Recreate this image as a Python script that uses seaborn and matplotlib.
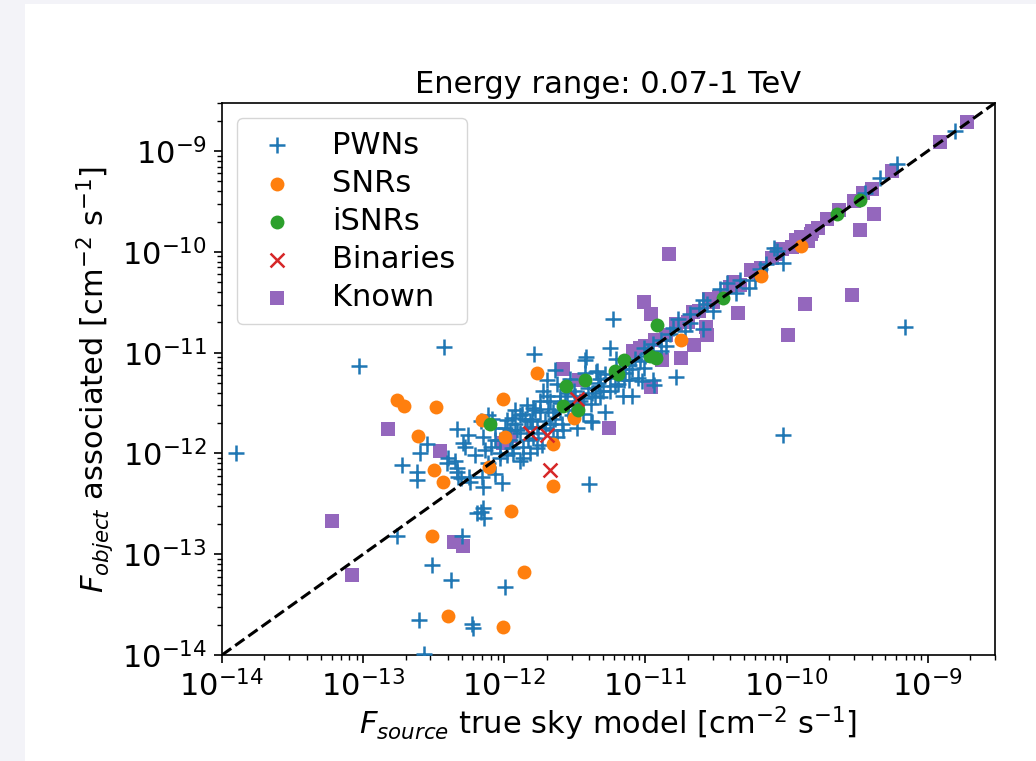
import matplotlib
matplotlib.use("Agg")
import matplotlib.pyplot as plt
from matplotlib.patches import Rectangle
import seaborn as sns
import numpy as np

# ---------------- data (fluxes, cm^-2 s^-1) ----------------
pwn_x = [1.26e-14, 9.4e-14, 3.75e-13, 6.9e-10, 9.4e-11, 5.9e-12, 1.63e-12, 3.8e-12, 5.65e-12, 2.3e-12,
         6.2e-12, 4.57e-12, 1.74e-13, 5.0e-13, 3.1e-13, 4.2e-13, 2.5e-13, 2.7e-13, 5.9e-13, 6.0e-13,
         1.02e-12, 6.8e-13, 7.2e-13, 6.4e-13, 7.1e-13, 9.7e-13, 4.0e-12, 1.89e-13, 2.42e-13, 2.42e-13,
         2.85e-13, 2.54e-13, 4.6e-13, 5.5e-13, 6.8e-13, 5.1e-13, 4.0e-13, 4.6e-13, 4.7e-13, 5.7e-13,
         8.6e-13, 9.4e-13, 7.1e-13, 1.14e-12, 1.30e-12, 1.61e-12, 1.80e-12, 5.3e-13, 7.7e-13, 1.05e-12,
         3.94e-13, 4.5e-13, 4.6e-13, 4.9e-13, 5.6e-13, 7.0e-13, 7.1e-13, 1.30e-12, 1.36e-12, 1.48e-12,
         1.34e-12, 1.46e-12, 1.58e-12, 9.4e-13, 1.05e-12, 1.14e-12, 1.24e-12, 1.53e-12, 1.66e-12, 2.02e-12,
         2.38e-12, 1.89e-12, 2.8e-12, 3.1e-12, 3.9e-12, 4.6e-12, 5.0e-12, 5.65e-12, 7.0e-12, 8.8e-12,
         9.7e-12, 4.8e-12, 4.1e-12, 3.3e-12, 2.12e-12, 1.80e-12, 2.23e-12, 1.2e-12, 1.46e-12, 1.71e-12,
         2.12e-12, 2.58e-12, 2.62e-12, 2.38e-12, 1.61e-12, 1.71e-12, 1.16e-12, 1.36e-12, 4.1e-12, 3.0e-12,
         3.6e-12, 4.5e-12, 3.75e-12, 1.66e-11, 1.16e-11, 4.2e-12, 5.2e-12, 6.9e-12, 8.1e-12, 9.4e-12,
         1.14e-11, 8.1e-11, 9.4e-11, 7.1e-11, 8.6e-11, 3.8e-11, 4.7e-11, 5.4e-11, 3.4e-11, 2.75e-11,
         2.38e-11, 2.54e-11, 2.08e-11, 1.71e-11, 1.58e-11, 1.5e-11, 2.58e-11, 1.28e-11, 1.14e-11, 9.7e-12,
         1.55e-9, 6.1e-10, 4.6e-10, 3.6e-10, 7.6e-12, 8.5e-12, 6.65e-12, 5.2e-12, 1.0e-11, 1.28e-11,
         1.39e-11, 1.92e-11, 2.08e-11, 2.99e-11, 4.35e-11, 6.0e-11, 6.5e-11, 2.71e-12, 3.19e-12, 2.5e-12,
         1.95e-12, 9.4e-13, 8.0e-13, 6.2e-13, 7.7e-13, 1.1e-12, 8.6e-13, 3.46e-12, 2.5e-12, 6.1e-12,
         4.4e-12, 7.6e-12, 2.94e-12, 2.02e-12, 1.58e-12, 2.23e-12,
         1.20e-12, 1.41e-12, 1.74e-12, 1.95e-12, 2.30e-12, 2.05e-12, 2.50e-12, 2.84e-12, 3.19e-12, 3.63e-12,
         4.21e-12, 4.80e-12, 5.65e-12, 6.44e-12, 7.21e-12, 8.09e-12, 9.22e-12, 1.05e-11, 1.02e-12, 8.63e-13,
         7.33e-13, 1.10e-12, 1.30e-12, 1.86e-12, 1.53e-12, 2.71e-12, 4.80e-12, 3.75e-12, 3.30e-12, 8.22e-13]
pwn_y = [1.02e-12, 7.3e-12, 1.15e-11, 1.8e-11, 1.54e-12, 2.17e-11, 9.8e-12, 9.1e-12, 1.12e-11, 6.8e-12,
         8.7e-12, 6.6e-12, 1.5e-13, 1.5e-13, 7.9e-14, 5.6e-14, 2.25e-14, 1.02e-14, 2.05e-14, 1.85e-14,
         4.7e-14, 2.6e-13, 2.3e-13, 2.55e-13, 4.6e-13, 5.05e-13, 5.0e-13, 7.6e-13, 6.5e-13, 5.5e-13,
         1.23e-12, 1.02e-12, 1.73e-12, 1.51e-12, 2.12e-12, 1.26e-12, 9.1e-13, 6.5e-13, 5.8e-13, 5.2e-13,
         6.3e-13, 1.0e-12, 1.44e-12, 2.27e-12, 2.38e-12, 2.85e-12, 3.35e-12, 1.15e-12, 2.38e-12, 2.17e-12,
         8.0e-13, 8.5e-13, 7.1e-13, 5.65e-13, 5.8e-13, 5.8e-13, 2.9e-13, 8.5e-13, 1.15e-12, 1.35e-12,
         2.49e-12, 2.99e-12, 1.81e-12, 9.1e-13, 9.6e-13, 1.12e-12, 1.69e-12, 2.12e-12, 2.67e-12, 5.3e-12,
         4.9e-12, 4.2e-12, 4.0e-12, 4.2e-12, 4.5e-12, 5.05e-12, 4.2e-12, 5.65e-12, 5.3e-12, 5.65e-12,
         7.1e-12, 3.6e-12, 3.1e-12, 3.2e-12, 3.35e-12, 2.55e-12, 2.55e-12, 1.98e-12, 1.77e-12, 1.81e-12,
         1.98e-12, 1.98e-12, 1.69e-12, 1.44e-12, 1.41e-12, 1.12e-12, 1.02e-12, 9.1e-13, 2.12e-12, 2.38e-12,
         2.49e-12, 6.5e-12, 8.5e-12, 5.75e-12, 4.8e-12, 2.05e-12, 2.6e-12, 3.75e-12, 3.7e-12, 5.2e-12,
         5.3e-12, 1.10e-10, 7.8e-11, 7.6e-11, 1.02e-10, 4.9e-11, 5.2e-11, 4.4e-11, 4.3e-11, 3.05e-11,
         2.8e-11, 3.3e-11, 2.4e-11, 2.17e-11, 1.77e-11, 1.54e-11, 1.73e-11, 1.32e-11, 1.23e-11, 1.12e-11,
         1.6e-9, 7.4e-10, 5.4e-10, 3.8e-10, 7.6e-12, 8.7e-12, 6.95e-12, 6.2e-12, 9.3e-12, 1.05e-11,
         1.17e-11, 1.65e-11, 1.98e-11, 2.6e-11, 3.9e-11, 5.2e-11, 6.8e-11, 3.35e-12, 3.75e-12, 2.67e-12,
         2.12e-12, 1.35e-12, 1.15e-12, 9.6e-13, 8.1e-13, 1.69e-12, 1.77e-12, 3.35e-12, 3.75e-12, 4.7e-12,
         3.75e-12, 5.3e-12, 5.5e-12, 3.75e-12, 2.22e-12, 1.69e-12,
         2.67e-12, 2.22e-12, 1.58e-12, 1.77e-12, 2.22e-12, 2.79e-12, 3.20e-12, 2.67e-12, 2.99e-12, 3.51e-12,
         4.02e-12, 4.71e-12, 4.21e-12, 4.93e-12, 6.34e-12, 6.95e-12, 8.34e-12, 1.0e-11, 1.77e-12, 1.35e-12,
         1.07e-12, 1.35e-12, 1.61e-12, 1.20e-12, 1.02e-12, 4.71e-12, 5.53e-12, 6.34e-12, 1.77e-12, 2.22e-12]

snr_x = [1.74e-13, 1.95e-13, 3.3e-13, 2.45e-13, 9.8e-13, 1.7e-12, 3.2e-13, 3.7e-13, 2.2e-12, 2.2e-12,
         6.9e-13, 7.8e-13, 1.02e-12, 3.1e-12, 3.1e-13, 4.0e-13, 9.8e-13, 1.38e-12, 1.12e-12, 6.6e-11,
         1.26e-10, 1.8e-11]
snr_y = [3.4e-12, 2.95e-12, 2.9e-12, 1.5e-12, 3.5e-12, 6.3e-12, 6.8e-13, 5.2e-13, 1.23e-12, 4.8e-13,
         2.15e-12, 7.4e-13, 1.45e-12, 2.24e-12, 1.5e-13, 2.45e-14, 1.9e-14, 6.6e-14, 2.7e-13, 5.75e-11,
         1.15e-10, 1.32e-11]

isnr_x = [7.9e-13, 2.75e-12, 3.75e-12, 2.6e-12, 3.35e-12, 1.2e-11, 7.1e-12, 6.1e-12, 6.4e-12, 1.08e-11,
          1.18e-11, 3.55e-11, 2.26e-10, 3.3e-10]
isnr_y = [1.95e-12, 4.7e-12, 5.4e-12, 2.95e-12, 2.67e-12, 1.89e-11, 8.5e-12, 6.6e-12, 6.2e-12, 9.3e-12,
          8.9e-12, 3.5e-11, 2.35e-10, 3.3e-10]

bin_x = [2.1e-12, 1.53e-12, 2.02e-12, 3.3e-12]
bin_y = [6.9e-13, 1.61e-12, 1.51e-12, 3.5e-12]

known_x = [1.9e-9, 1.23e-9, 5.6e-10, 4.0e-10, 3.5e-10, 3.0e-10, 2.35e-10, 1.95e-10, 1.66e-10, 1.48e-10,
           1.41e-10, 4.2e-10, 3.3e-10, 2.9e-10, 1.35e-10, 1.02e-10, 4.5e-11, 2.75e-11, 2.7e-11, 2.2e-11,
           1.78e-11, 1.32e-11, 1.48e-11, 9.8e-12, 1.1e-11, 1.1e-11, 5.5e-12, 2.6e-12, 3.4e-12, 1.1e-12,
           9.8e-13, 1.5e-13, 3.5e-13, 6.0e-14, 8.3e-14, 4.4e-13, 5.1e-13, 8.2e-12, 9.2e-12, 1.0e-11,
           1.17e-11, 1.41e-11, 1.66e-11, 2.0e-11, 2.4e-11, 2.8e-11, 3.3e-11, 4.0e-11, 4.7e-11, 5.6e-11,
           6.6e-11, 7.9e-11, 9.3e-11, 1.10e-10, 1.26e-10, 1.51e-10,
           2.19e-11, 3.02e-11, 4.27e-11, 6.03e-11, 8.51e-11, 1.17e-10]
known_y = [1.95e-9, 1.23e-9, 6.3e-10, 4.2e-10, 3.8e-10, 3.2e-10, 2.6e-10, 2.1e-10, 1.74e-10, 1.5e-10,
           1.29e-10, 2.35e-10, 1.65e-10, 3.7e-11, 3.05e-11, 1.48e-11, 2.45e-11, 1.48e-11, 1.8e-11, 1.2e-11,
           8.9e-12, 8.5e-12, 9.6e-11, 3.2e-11, 2.4e-11, 4.6e-12, 1.8e-12, 6.9e-12, 5.3e-12, 1.5e-12,
           1.26e-12, 1.74e-12, 1.05e-12, 2.15e-13, 6.2e-14, 1.32e-13, 1.2e-13, 1.05e-11, 1.12e-11, 1.17e-11,
           1.32e-11, 1.48e-11, 1.91e-11, 2.0e-11, 2.6e-11, 3.4e-11, 3.55e-11, 4.5e-11, 4.7e-11, 6.6e-11,
           6.9e-11, 8.7e-11, 1.07e-10, 1.12e-10, 1.41e-10, 1.62e-10,
           2.51e-11, 3.16e-11, 5.01e-11, 6.31e-11, 9.55e-11, 1.32e-10]

diag = [1e-14, 3e-9]
axis_limits = [1e-14, 3e-9]
labels = ["PWNs", "SNRs", "iSNRs", "Binaries", "Known"]

# ---------------- figure ----------------
plt.rcParams['font.family'] = ['DejaVu Sans']
plt.rcParams['mathtext.fontset'] = 'dejavusans'
W, H = 1036, 761
fig = plt.figure(figsize=(W / 100, H / 100), dpi=100)
fig.patch.set_facecolor('#f3f3f8')
fig.patches.append(Rectangle((25 / W, 0), 1 - 25 / W, 1 - 4 / H, transform=fig.transFigure,
                             facecolor='white', edgecolor='none', zorder=-10))

ax = fig.add_axes([222 / W, 1 - 655 / H, 773 / W, 552 / H])
ax.set_xscale('log')
ax.set_yscale('log')

cols = sns.color_palette("tab10")
S = 100

sns.scatterplot(x=known_x, y=known_y, ax=ax, marker='s', color=cols[4], s=S, linewidth=0,
                label=labels[4], zorder=2)
sns.scatterplot(x=pwn_x, y=pwn_y, ax=ax, marker='+', color=cols[0], s=S * 1.3, linewidth=1.8,
                label=labels[0], zorder=3)
sns.scatterplot(x=snr_x, y=snr_y, ax=ax, marker='o', color=cols[1], s=S, linewidth=0,
                label=labels[1], zorder=3)
sns.scatterplot(x=isnr_x, y=isnr_y, ax=ax, marker='o', color=cols[2], s=S, linewidth=0,
                label=labels[2], zorder=3)
sns.scatterplot(x=bin_x, y=bin_y, ax=ax, marker='x', color=cols[3], s=S, linewidth=1.8,
                label=labels[3], zorder=3)
sns.lineplot(x=diag, y=diag, ax=ax, color='black', linestyle='--', linewidth=2.2, zorder=4,
             legend=False)

ax.set_xlim(*axis_limits)
ax.set_ylim(*axis_limits)

FS = 22
ax.set_title("Energy range: 0.07-1 TeV", fontsize=FS, pad=7)
ax.set_xlabel(r"$F_{source}$ true sky model [cm$^{-2}$ s$^{-1}$]", fontsize=FS, labelpad=1)
ax.set_ylabel(r"$F_{object}$ associated [cm$^{-2}$ s$^{-1}$]", fontsize=FS, labelpad=4)

ax.tick_params(axis='both', which='major', labelsize=FS, length=6, width=1.2, pad=5)
ax.tick_params(axis='both', which='minor', length=3.5, width=1.0)
for sp in ax.spines.values():
    sp.set_linewidth(1.2)

handles, labs = ax.get_legend_handles_labels()
hmap = dict(zip(labs, handles))
ax.legend([hmap[l] for l in labels], labels, loc='upper left', fontsize=FS,
          labelspacing=0.3, borderpad=0.4, handlelength=1.8, handletextpad=0.9)

fig.savefig("out.png", dpi=100, facecolor=fig.get_facecolor())
